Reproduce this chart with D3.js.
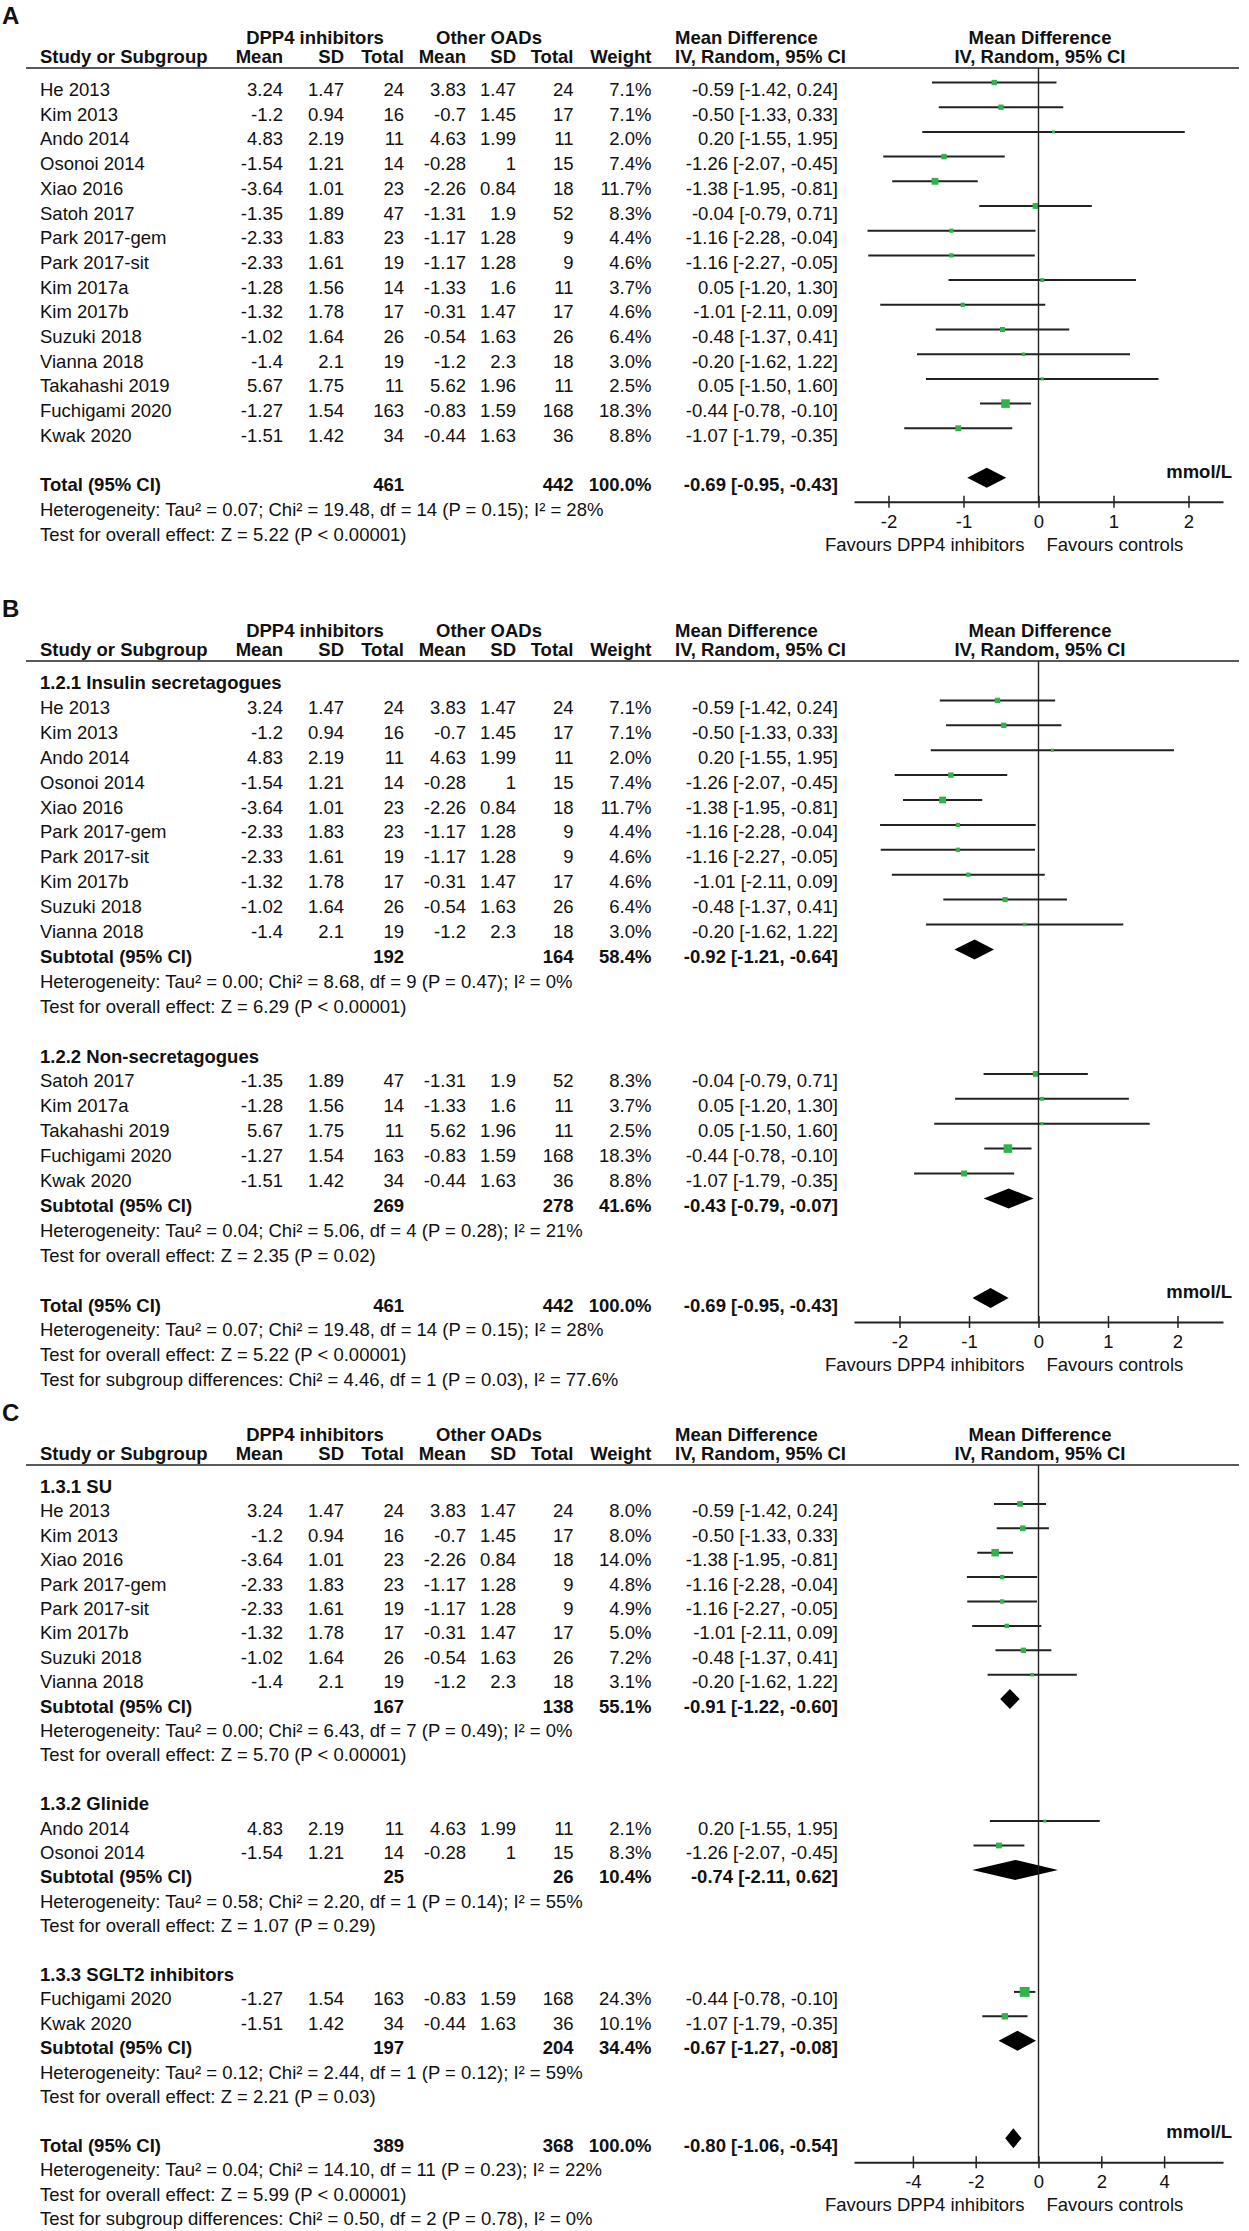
<!DOCTYPE html>
<html>
<head>
<meta charset="utf-8">
<script src="https://cdn.jsdelivr.net/npm/d3@7"></script>
<style>
  html, body { margin: 0; padding: 0; background: #fff; }
  svg { display: block; }
  text { font-family: "Liberation Sans", Arial, sans-serif; font-size: 18.5px; fill: #111; }
  .b { font-weight: bold; }
  .letter { font-size: 24px; font-weight: bold; }
</style>
</head>
<body>
<svg id="chart" width="1249" height="2231"></svg>
<script>
// ---------------- DATA ----------------
const studyNames = ["He 2013","Kim 2013","Ando 2014","Osonoi 2014","Xiao 2016","Satoh 2017","Park 2017-gem","Park 2017-sit","Kim 2017a","Kim 2017b","Suzuki 2018","Vianna 2018","Takahashi 2019","Fuchigami 2020","Kwak 2020"];
const dppMean = [3.24,-1.2,4.83,-1.54,-3.64,-1.35,-2.33,-2.33,-1.28,-1.32,-1.02,-1.4,5.67,-1.27,-1.51];
const dppSD   = [1.47,0.94,2.19,1.21,1.01,1.89,1.83,1.61,1.56,1.78,1.64,2.1,1.75,1.54,1.42];
const dppN    = [24,16,11,14,23,47,23,19,14,17,26,19,11,163,34];
const othMean = [3.83,-0.7,4.63,-0.28,-2.26,-1.31,-1.17,-1.17,-1.33,-0.31,-0.54,-1.2,5.62,-0.83,-0.44];
const othSD   = [1.47,1.45,1.99,1,0.84,1.9,1.28,1.28,1.6,1.47,1.63,2.3,1.96,1.59,1.63];
const othN    = [24,17,11,15,18,52,9,9,11,17,26,18,11,168,36];
const mdEst   = [-0.59,-0.50,0.20,-1.26,-1.38,-0.04,-1.16,-1.16,0.05,-1.01,-0.48,-0.20,0.05,-0.44,-1.07];
const mdLow   = [-1.42,-1.33,-1.55,-2.07,-1.95,-0.79,-2.28,-2.27,-1.20,-2.11,-1.37,-1.62,-1.50,-0.78,-1.79];
const mdHigh  = [0.24,0.33,1.95,-0.45,-0.81,0.71,-0.04,-0.05,1.30,0.09,0.41,1.22,1.60,-0.10,-0.35];
const weightsAB = [7.1,7.1,2.0,7.4,11.7,8.3,4.4,4.6,3.7,4.6,6.4,3.0,2.5,18.3,8.8];

// Panel A: all studies in order
const orderA = studyNames.slice();
// Panel B subgroups
const groupB1 = ["He 2013","Kim 2013","Ando 2014","Osonoi 2014","Xiao 2016","Park 2017-gem","Park 2017-sit","Kim 2017b","Suzuki 2018","Vianna 2018"];
const groupB2 = ["Satoh 2017","Kim 2017a","Takahashi 2019","Fuchigami 2020","Kwak 2020"];
// Panel C subgroups with own weights
const groupC1 = ["He 2013","Kim 2013","Xiao 2016","Park 2017-gem","Park 2017-sit","Kim 2017b","Suzuki 2018","Vianna 2018"];
const weightsC1 = [8.0,8.0,14.0,4.8,4.9,5.0,7.2,3.1];
const groupC2 = ["Ando 2014","Osonoi 2014"];
const weightsC2 = [2.1,8.3];
const groupC3 = ["Fuchigami 2020","Kwak 2020"];
const weightsC3 = [24.3,10.1];

// summary rows: [n1, n2, weight, md, low, high]
const totalAB   = [461,442,100.0,-0.69,-0.95,-0.43];
const subB1     = [192,164,58.4,-0.92,-1.21,-0.64];
const subB2     = [269,278,41.6,-0.43,-0.79,-0.07];
const subC1     = [167,138,55.1,-0.91,-1.22,-0.60];
const subC2     = [25,26,10.4,-0.74,-2.11,0.62];
const subC3     = [197,204,34.4,-0.67,-1.27,-0.08];
const totalC    = [389,368,100.0,-0.80,-1.06,-0.54];

const ticksAB = [-2,-1,0,1,2];
const ticksC  = [-4,-2,0,2,4];

// ---------------- LAYOUT ----------------
const svg = d3.select("#chart");
svg.append("rect").attr("width",1249).attr("height",2231).attr("fill","#fff");

const COL = { name:40, mean1:283, sd1:344, n1:404, mean2:466, sd2:516, n2:573.5, w:651.5, ci:838, mdHdr:675, plotHdr:1040 };
const INK = "#222";
const GREEN = "#2fb34a";
const f2 = v => v.toFixed(2);
const ciText = (m,l,h) => `${f2(m)} [${f2(l)}, ${f2(h)}]`;

function idx(name){ return studyNames.indexOf(name); }

function studyRow(name, w){
  const i = idx(name);
  return {type:"study", name, i, w};
}
function summaryRow(label, s){ return {type:"summary", label, s}; }

function buildRows(groups, total, totalHet, totalTest, subgroupTest){
  const rows = [];
  groups.forEach(g => {
    if (g.title) rows.push({type:"group", label:g.title});
    g.names.forEach((n,k) => rows.push(studyRow(n, g.weights[k])));
    if (g.sub) {
      rows.push(summaryRow("Subtotal (95% CI)", g.sub));
      rows.push({type:"text", label:g.het});
      rows.push({type:"text", label:g.test});
    }
    rows.push({type:"blank"});
  });
  rows.push(summaryRow("Total (95% CI)", total, true));
  rows[rows.length-1].isTotal = true;
  rows.push({type:"text", label:totalHet});
  rows.push({type:"text", label:totalTest});
  if (subgroupTest) rows.push({type:"text", label:subgroupTest});
  return rows;
}

const panels = [
  {
    letter:"A", top:44, step:24.7, half:2.46, ticks:ticksAB,
    rows: buildRows(
      [{title:null, names:orderA, weights:orderA.map(n => weightsAB[idx(n)])}],
      totalAB,
      "Heterogeneity: Tau² = 0.07; Chi² = 19.48, df = 14 (P = 0.15); I² = 28%",
      "Test for overall effect: Z = 5.22 (P < 0.00001)", null)
  },
  {
    letter:"B", top:637, step:24.9, half:2.655, ticks:ticksAB,
    rows: buildRows(
      [
        {title:"1.2.1 Insulin secretagogues", names:groupB1, weights:groupB1.map(n => weightsAB[idx(n)]), sub:subB1,
         het:"Heterogeneity: Tau² = 0.00; Chi² = 8.68, df = 9 (P = 0.47); I² = 0%",
         test:"Test for overall effect: Z = 6.29 (P < 0.00001)"},
        {title:"1.2.2 Non-secretagogues", names:groupB2, weights:groupB2.map(n => weightsAB[idx(n)]), sub:subB2,
         het:"Heterogeneity: Tau² = 0.04; Chi² = 5.06, df = 4 (P = 0.28); I² = 21%",
         test:"Test for overall effect: Z = 2.35 (P = 0.02)"}
      ],
      totalAB,
      "Heterogeneity: Tau² = 0.07; Chi² = 19.48, df = 14 (P = 0.15); I² = 28%",
      "Test for overall effect: Z = 5.22 (P < 0.00001)",
      "Test for subgroup differences: Chi² = 4.46, df = 1 (P = 0.03), I² = 77.6%")
  },
  {
    letter:"C", top:1441, step:24.4, half:5.875, ticks:ticksC,
    rows: buildRows(
      [
        {title:"1.3.1 SU", names:groupC1, weights:weightsC1, sub:subC1,
         het:"Heterogeneity: Tau² = 0.00; Chi² = 6.43, df = 7 (P = 0.49); I² = 0%",
         test:"Test for overall effect: Z = 5.70 (P < 0.00001)"},
        {title:"1.3.2 Glinide", names:groupC2, weights:weightsC2, sub:subC2,
         het:"Heterogeneity: Tau² = 0.58; Chi² = 2.20, df = 1 (P = 0.14); I² = 55%",
         test:"Test for overall effect: Z = 1.07 (P = 0.29)"},
        {title:"1.3.3 SGLT2 inhibitors", names:groupC3, weights:weightsC3, sub:subC3,
         het:"Heterogeneity: Tau² = 0.12; Chi² = 2.44, df = 1 (P = 0.12); I² = 59%",
         test:"Test for overall effect: Z = 2.21 (P = 0.03)"}
      ],
      totalC,
      "Heterogeneity: Tau² = 0.04; Chi² = 14.10, df = 11 (P = 0.23); I² = 22%",
      "Test for overall effect: Z = 5.99 (P < 0.00001)",
      "Test for subgroup differences: Chi² = 0.50, df = 2 (P = 0.78), I² = 0%")
  }
];

function txt(g, x, y, s, anchor, bold){
  return g.append("text").attr("x",x).attr("y",y).attr("text-anchor",anchor||"start")
    .attr("class", bold ? "b" : null).text(s);
}

panels.forEach(p => {
  const g = svg.append("g");
  const top = p.top;
  const xs = d3.scaleLinear().domain([-p.half, p.half]).range([854, 1223]);

  g.append("text").attr("class","letter").attr("x",2).attr("y",top-20).text(p.letter);

  // header row 1
  txt(g, 315, top, "DPP4 inhibitors", "middle", true);
  txt(g, 489, top, "Other OADs", "middle", true);
  txt(g, COL.mdHdr, top, "Mean Difference", "start", true);
  txt(g, COL.plotHdr, top, "Mean Difference", "middle", true);
  // header row 2
  const h2 = top + 19;
  txt(g, COL.name, h2, "Study or Subgroup", "start", true);
  txt(g, COL.mean1, h2, "Mean", "end", true);
  txt(g, COL.sd1, h2, "SD", "end", true);
  txt(g, COL.n1, h2, "Total", "end", true);
  txt(g, COL.mean2, h2, "Mean", "end", true);
  txt(g, COL.sd2, h2, "SD", "end", true);
  txt(g, COL.n2, h2, "Total", "end", true);
  txt(g, COL.w, h2, "Weight", "end", true);
  txt(g, COL.mdHdr, h2, "IV, Random, 95% CI", "start", true);
  txt(g, COL.plotHdr, h2, "IV, Random, 95% CI", "middle", true);
  const lineY = top + 24;
  g.append("line").attr("x1",26).attr("x2",1239).attr("y1",lineY).attr("y2",lineY)
    .attr("stroke",INK).attr("stroke-width",1.6);

  const base = i => top + 52 + i * p.step;
  const markDy = -13.5;
  let totalBase = 0;

  p.rows.forEach((r, i) => {
    const y = base(i);
    if (r.type === "group") {
      txt(g, COL.name, y, r.label, "start", true);
    } else if (r.type === "text") {
      txt(g, COL.name, y, r.label, "start", false);
    } else if (r.type === "study") {
      const k = r.i;
      txt(g, COL.name, y, r.name);
      txt(g, COL.mean1, y, String(dppMean[k]), "end");
      txt(g, COL.sd1, y, String(dppSD[k]), "end");
      txt(g, COL.n1, y, String(dppN[k]), "end");
      txt(g, COL.mean2, y, String(othMean[k]), "end");
      txt(g, COL.sd2, y, String(othSD[k]), "end");
      txt(g, COL.n2, y, String(othN[k]), "end");
      txt(g, COL.w, y, r.w.toFixed(1) + "%", "end");
      txt(g, COL.ci, y, ciText(mdEst[k], mdLow[k], mdHigh[k]), "end");
      const my = y + markDy;
      g.append("line").attr("x1", xs(mdLow[k])).attr("x2", xs(mdHigh[k]))
        .attr("y1", my).attr("y2", my).attr("stroke", INK).attr("stroke-width", 2);
      const side = Math.max(3, 2.0 * Math.sqrt(r.w));
      g.append("rect").attr("x", xs(mdEst[k]) - side/2).attr("y", my - side/2)
        .attr("width", side).attr("height", side).attr("fill", GREEN);
    } else if (r.type === "summary") {
      const s = r.s;
      txt(g, COL.name, y, r.label, "start", true);
      txt(g, COL.n1, y, String(s[0]), "end", true);
      txt(g, COL.n2, y, String(s[1]), "end", true);
      txt(g, COL.w, y, s[2].toFixed(1) + "%", "end", true);
      txt(g, COL.ci, y, ciText(s[3], s[4], s[5]), "end", true);
      const my = y + markDy;
      const hh = 10;
      g.append("path")
        .attr("d", `M${xs(s[4])},${my} L${xs(s[3])},${my-hh} L${xs(s[5])},${my} L${xs(s[3])},${my+hh} Z`)
        .attr("fill", "#000");
      if (r.isTotal) totalBase = y;
    }
  });

  const axisY = totalBase + 10.5;
  // zero line
  g.append("line").attr("x1", xs(0)).attr("x2", xs(0)).attr("y1", lineY).attr("y2", axisY)
    .attr("stroke", INK).attr("stroke-width", 1.4);

  const ax = g.append("g").attr("transform", `translate(0,${axisY})`)
    .call(d3.axisBottom(xs).tickValues(p.ticks).tickFormat(d => String(d)).tickSizeOuter(0).tickSizeInner(6));
  ax.select(".domain").attr("stroke", INK).attr("stroke-width", 2);
  ax.selectAll(".tick line").attr("y1", -6).attr("y2", 6).attr("stroke", INK).attr("stroke-width", 1.5);
  ax.selectAll(".tick text").attr("y", 26).attr("dy", null)
    .style("font-family", '"Liberation Sans", Arial, sans-serif').style("font-size", "18.5px").attr("fill", "#111");

  txt(g, xs(0) - 14, axisY + 49, "Favours DPP4 inhibitors", "end");
  txt(g, xs(0) + 8, axisY + 49, "Favours controls", "start");
  txt(g, 1232, axisY - 24, "mmol/L", "end", true);
});
</script>
</body>
</html>
